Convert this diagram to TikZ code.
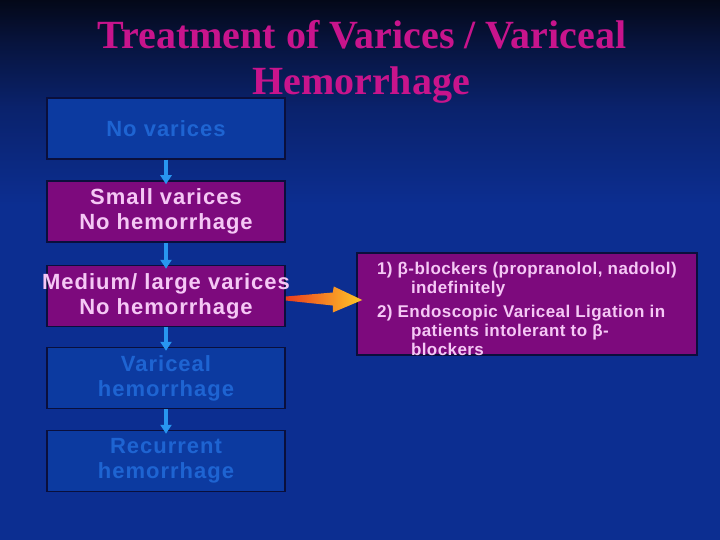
\documentclass[tikz,border=0pt]{standalone}
\usepackage{fontspec}
\setmainfont{Liberation Sans}
\newfontfamily\titlefont{Liberation Serif}
\usetikzlibrary{arrows.meta,positioning,calc}

\definecolor{bgblue}{RGB}{12,46,145}
\definecolor{bgmid}{RGB}{10,34,108}
\definecolor{bgdim}{RGB}{7,20,62}
\definecolor{bgdark}{RGB}{4,8,24}
\definecolor{titlemag}{RGB}{200,20,140}
\definecolor{boxpurple}{RGB}{125,10,125}
\definecolor{pinktext}{RGB}{245,200,245}
\definecolor{boxblue}{RGB}{12,58,160}
\definecolor{bluetext}{RGB}{30,100,210}
\definecolor{boxline}{RGB}{10,15,60}
\definecolor{flowblue}{RGB}{40,150,240}
\definecolor{arrred}{RGB}{235,60,30}
\definecolor{arryel}{RGB}{255,200,40}

% tikz fits the middle 50bp of a shading to the path
\pgfdeclareverticalshading{bgshade}{100bp}{color(0bp)=(bgblue); color(56bp)=(bgblue); color(65bp)=(bgmid); color(71bp)=(bgdim); color(75bp)=(bgdark); color(100bp)=(bgdark)}

\begin{document}
\begin{tikzpicture}[x=1pt, y=-1pt,
		stage/.style={draw=boxline, line width=1.5pt, align=center, minimum height=61pt, minimum width=238pt, inner sep=0pt,
			font=\fontsize{22}{25}\selectfont\bfseries\addfontfeature{LetterSpace=4.5}},
		quiet/.style={stage, fill=boxblue, text=bluetext},
		active/.style={stage, fill=boxpurple, text=pinktext},
		flow/.style={flowblue, line width=4pt, -{Triangle[width=11pt, length=9pt]}, shorten >=-4pt},
		heading/.style={text=titlemag, anchor=base, font=\titlefont\fontsize{40}{47}\selectfont\bfseries}
	]
		\useasboundingbox (0,0) rectangle (720,540);
		\shade[shading=bgshade] (0,0) rectangle (720,540);

		\node[heading] (t1) at (362,49) {Treatment of Varices / Variceal};
		\node[heading] (t2) at (361,95) {Hemorrhage};

		\node[quiet] (nov) at (166,128.5) {No varices};
		\node[active, below=20.5pt of nov] (small) {Small varices\\No hemorrhage};
		\node[active, below=22pt of small] (med) {\makebox[0pt]{Medium/ large varices}\\No hemorrhage};
		\node[quiet, below=19.5pt of med] (bleed) {Variceal\\hemorrhage};
		\node[quiet, below=20.5pt of bleed] (rebleed) {Recurrent\\hemorrhage};

		\node[draw=boxline, line width=1.5pt, fill=boxpurple, text=pinktext, inner xsep=15pt, inner ysep=0pt,
			font=\fontsize{17}{19}\selectfont\bfseries\addfontfeature{LetterSpace=2.5}]
			(tx) at (527,304) {\parbox[c][102pt][t]{310pt}{\vspace*{9pt}\raggedright
			\hspace*{5pt}1) β-blockers (propranolol, nadolol)\\
			\hspace*{39pt}indefinitely\\[5pt]
			\hspace*{5pt}2) Endoscopic Variceal Ligation in\\
			\hspace*{39pt}patients intolerant to β-\\
			\hspace*{39pt}blockers}};

		\draw[flow] (nov) -- (small);
		\draw[flow] (small) -- (med);
		\draw[flow] (med) -- (bleed);
		\draw[flow] (bleed) -- (rebleed);

		% fat arrow into the treatment box
		\shade[left color=arrred, right color=arryel]
			($(med.east)+(0,0.5)$) -- ($(med.east)+(47,-3.5)$) -- ($(med.east)+(48,-9.5)$)
			-- ($(tx.west)+(6,-4)$)
			-- ($(med.east)+(47,16.5)$) -- ($(med.east)+(47,9.5)$) -- ($(med.east)+(0,4.5)$) -- cycle;
	\end{tikzpicture}
\end{document}
